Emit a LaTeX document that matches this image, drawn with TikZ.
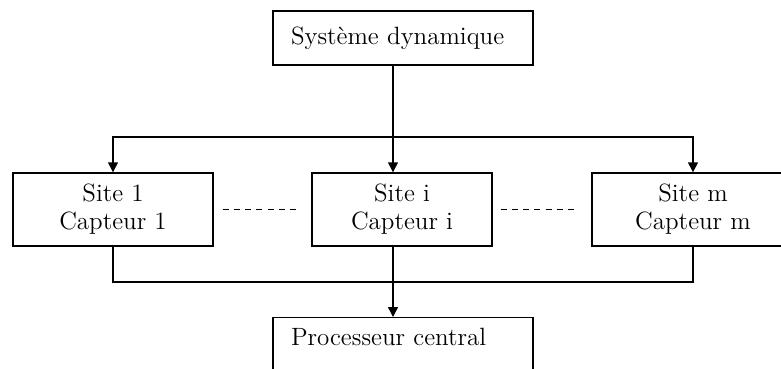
\documentclass[tikz,border=0pt]{standalone}
\usetikzlibrary{arrows.meta}
\begin{document}
\begin{tikzpicture}[x=0.5pt,y=-0.5pt,
  sitebox/.style={draw,line width=0.7pt,align=center,minimum height=36.5pt,
    font=\fontsize{12.5}{14}\selectfont},
  mainbox/.style={draw,line width=0.7pt,align=left,text width=112pt,inner xsep=9pt,
    minimum height=27pt,font=\fontsize{12.5}{14}\selectfont},
  flow/.style={line width=0.7pt,-{Triangle[length=5pt,width=5pt]}},
  link/.style={line width=0.7pt},
  gap/.style={line width=0.6pt,dash pattern=on 3pt off 2.6pt}]
  \useasboundingbox (0,0) rectangle (781,369);
  % boxes
  \node[mainbox] (sys) at (403,38) {Syst\`eme dynamique};
  \node[sitebox,minimum width=100pt] (site1) at (113,209.5) {Site 1\\Capteur 1};
  \node[sitebox,minimum width=90pt] (sitei) at (402,209.5) {Site i\\Capteur i};
  \node[sitebox,minimum width=101pt] (sitem) at (693,209.5) {Site m\\Capteur m};
  \node[mainbox,anchor=north,inner ysep=5pt,text height=9pt,text depth=12pt]
    (proc) at (403,317) {Processeur central};
  % bus lines
  \coordinate (top) at (393,137);
  \coordinate (bl) at (113,282);
  \coordinate (br) at (693,282);
  \draw[link] (sys.south -| top) -- (top);
  \draw[flow] (top) -| (site1.north);
  \draw[flow] (top) -| (sitem.north);
  \draw[flow] (top) -- (top |- sitei.north);
  \draw[link] (site1.south) -- (bl) -- (br) -- (sitem.south);
  \draw[flow] (top |- sitei.south) -- (top |- proc.north);
  % dots between sites
  \draw[gap] ([xshift=4.5pt]site1.east) -- ([xshift=-6pt]sitei.west);
  \draw[gap] ([xshift=4pt]sitei.east) -- ([xshift=-7pt]sitem.west);
\end{tikzpicture}
\end{document}
